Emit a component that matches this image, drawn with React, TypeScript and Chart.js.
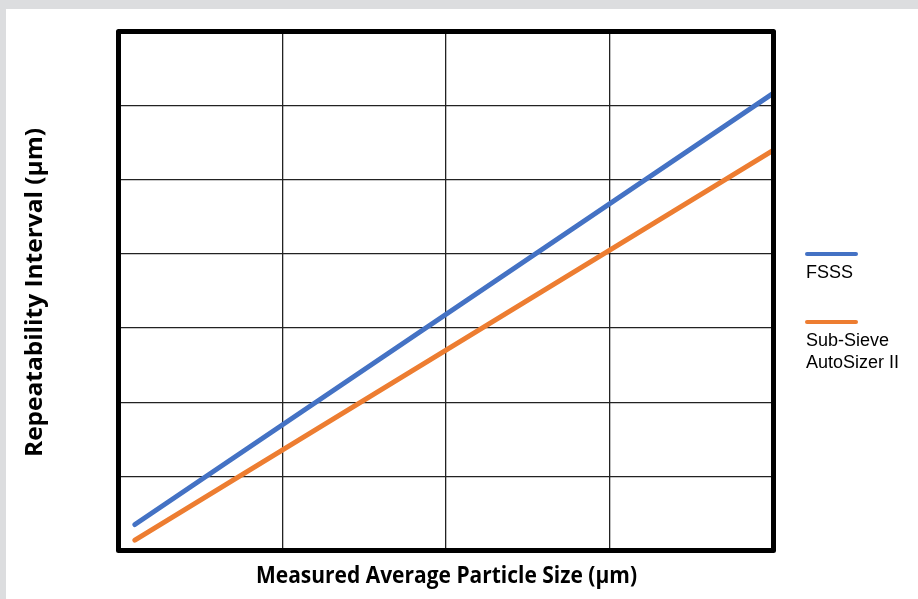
import React, { useEffect, useRef } from "react";
import { Chart, registerables } from "chart.js";

Chart.register(...registerables);

const particleSizes = [1, 40];
const fsssValues = [0.35, 6.17];
const autoSizerValues = [0.14, 5.4];
const seriesLabels = ["FSSS", "Sub-Sieve\nAutoSizer II"];
const xTitle = "Measured Average Particle Size (µm)";
const yTitle = "Repeatability Interval (µm)";
const BLUE = "#4472c4";
const ORANGE = "#ed7d31";

function fitText(ctx: any, text: string, x: number, y: number, width: number) {
  const w = ctx.measureText(text).width;
  ctx.save();
  ctx.translate(x, y);
  ctx.scale(width / w, 1);
  ctx.fillText(text, 0, 0);
  ctx.restore();
}

const framePlugin = {
  id: "frame",
  afterDraw(chart: any) {
    const { ctx, chartArea } = chart;
    const { left, top, right, bottom } = chartArea;
    ctx.save();
    ctx.strokeStyle = "#000";
    ctx.lineWidth = 5;
    ctx.lineJoin = "round";
    ctx.strokeRect(left, top, right - left, bottom - top);

    // axis titles
    ctx.fillStyle = "#000";
    ctx.textAlign = "center";
    ctx.textBaseline = "alphabetic";
    ctx.font = "bold 23px 'Open Sans'";
    fitText(ctx, xTitle, 446.5, 583, 381);
    ctx.translate(42, 292.5);
    ctx.rotate(-Math.PI / 2);
    ctx.font = "bold 24px 'Open Sans'";
    fitText(ctx, yTitle, 0, 0, 329);
    ctx.restore();

    // legend
    ctx.save();
    const items = [
      { color: BLUE, y: 254 },
      { color: ORANGE, y: 322 },
    ];
    ctx.font = "18px 'Liberation Sans'";
    ctx.textAlign = "left";
    ctx.textBaseline = "alphabetic";
    items.forEach((it, i) => {
      ctx.strokeStyle = it.color;
      ctx.lineWidth = 4;
      ctx.lineCap = "round";
      ctx.beginPath();
      ctx.moveTo(807, it.y);
      ctx.lineTo(856, it.y);
      ctx.stroke();
      ctx.fillStyle = "#000";
      const lines = seriesLabels[i].split("\n");
      lines.forEach((ln, j) => {
        ctx.fillText(ln, 806, it.y + 24 + j * 22);
      });
    });
    ctx.restore();
  },
};

export default function App() {
  const ref = useRef<HTMLCanvasElement>(null);
  useEffect(() => {
    if (!ref.current) return;
    const chart = new Chart(ref.current, {
      type: "scatter",
      data: {
        datasets: [
          {
            label: "FSSS",
            data: particleSizes.map((x, i) => ({ x, y: fsssValues[i] })),
            showLine: true,
            borderColor: BLUE,
            backgroundColor: BLUE,
            borderWidth: 5,
            pointRadius: 0,
            borderCapStyle: "round",
          },
          {
            label: "Sub-Sieve AutoSizer II",
            data: particleSizes.map((x, i) => ({ x, y: autoSizerValues[i] })),
            showLine: true,
            borderColor: ORANGE,
            backgroundColor: ORANGE,
            borderWidth: 5,
            pointRadius: 0,
            borderCapStyle: "round",
          },
        ],
      },
      options: {
        animation: false,
        responsive: false,
        devicePixelRatio: 1,
        layout: { padding: { left: 118.5, top: 31.5, right: 144.5, bottom: 48.5 } },
        plugins: { legend: { display: false }, tooltip: { enabled: false } },
        scales: {
          x: {
            type: "linear",
            min: 0,
            max: 40,
            ticks: { display: false, stepSize: 10 },
            grid: { color: "#222", lineWidth: 1.3, drawTicks: false },
            border: { display: false },
          },
          y: {
            type: "linear",
            min: 0,
            max: 7,
            ticks: { display: false, stepSize: 1 },
            grid: { color: "#222", lineWidth: 1.3, drawTicks: false },
            border: { display: false },
          },
        },
      },
      plugins: [framePlugin],
    } as any);
    return () => chart.destroy();
  }, []);
  return (
    <div style={{ position: "fixed", left: 0, top: 0, width: 918, height: 599, background: "#dcdddf" }}>
      <div style={{ position: "absolute", left: 6, top: 9, right: 0, bottom: 0, background: "#fff" }} />
      <canvas ref={ref} width={918} height={599} style={{ position: "absolute", left: 0, top: 0 }} />
    </div>
  );
}
